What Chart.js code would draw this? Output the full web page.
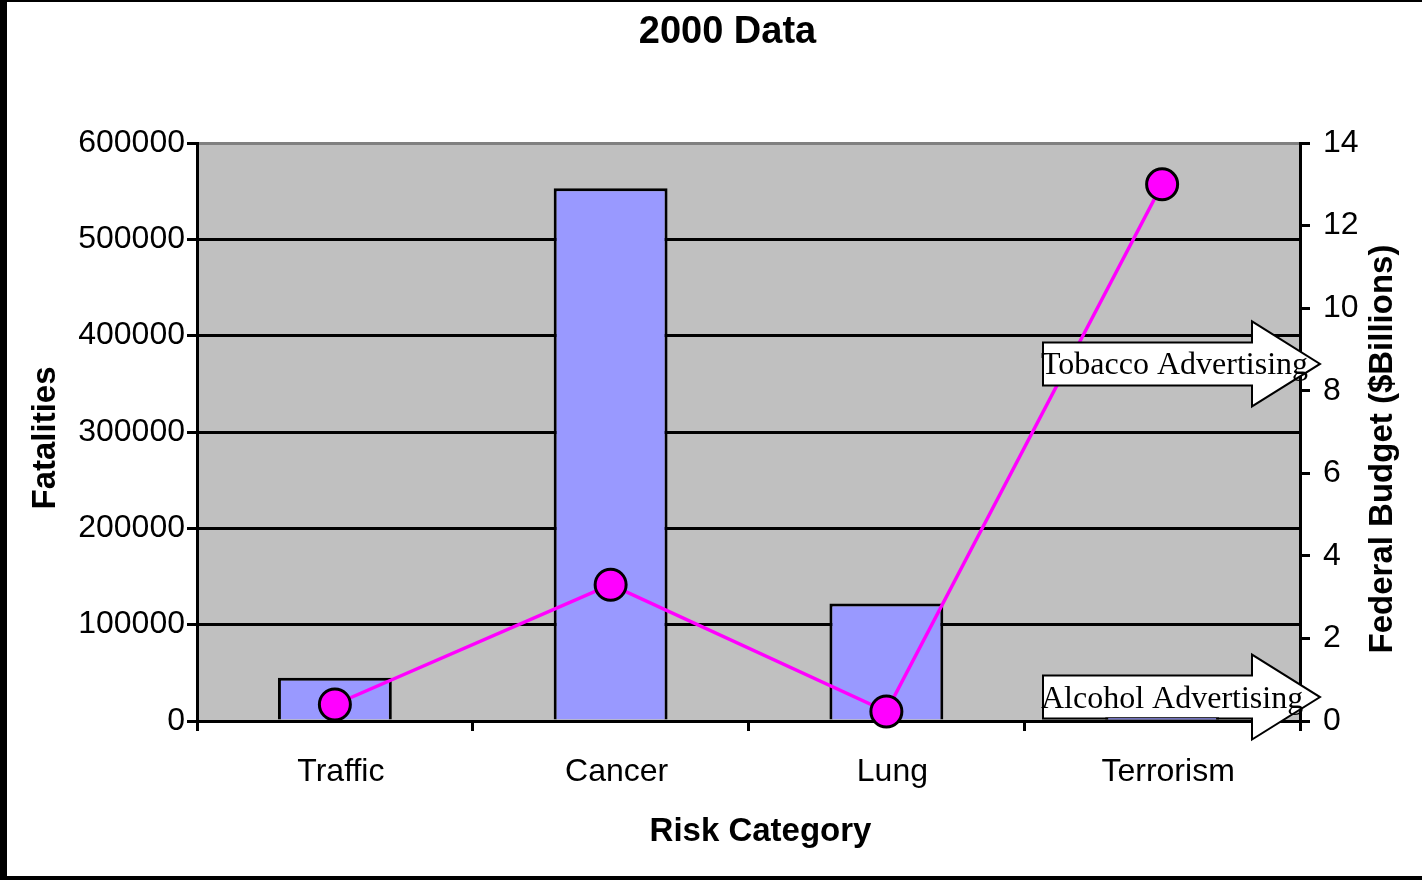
<!DOCTYPE html>
<html>
<head>
<meta charset="utf-8">
<title>2000 Data</title>
<script src="https://cdn.jsdelivr.net/npm/chart.js@4.4.1/dist/chart.umd.min.js"></script>
<style>
  html, body { margin: 0; padding: 0; background: #ffffff; }
  #wrap { position: relative; width: 1422px; height: 880px; }
  #frame {
    position: absolute; left: 0; top: 0; width: 1422px; height: 880px;
    box-sizing: border-box; pointer-events: none;
    border-left: 7px solid #000; border-top: 2px solid #000; border-bottom: 4px solid #000;
  }
  canvas { display: block; }
</style>
</head>
<body>
<div id="wrap">
  <canvas id="chart" width="1422" height="880"></canvas>
  <div id="frame"></div>
</div>
<script>
// Risk categories and their values
const CATEGORIES = ['Traffic', 'Cancer', 'Lung', 'Terrorism'];
const FATALITIES = [45000, 553000, 122000, 4000];
const BUDGET_BILLIONS = [0.4, 3.3, 0.23, 13];

// Axis ranges
const FATALITY_TICKS = [0, 100000, 200000, 300000, 400000, 500000, 600000];
const BUDGET_TICKS = [0, 2, 4, 6, 8, 10, 12, 14];

// Text
const CHART_TITLE = '2000 Data';
const X_TITLE = 'Risk Category';
const Y_TITLE = 'Fatalities';
const Y1_TITLE = 'Federal Budget ($Billions)';

// Arrow callouts, placed at a level on the budget axis
const CALLOUT_LABELS = ['Tobacco Advertising', 'Alcohol Advertising'];
const CALLOUT_LEVELS = [8.65, 0.58];

const SANS = '"Liberation Sans", Arial, sans-serif';
const SERIF = '"Liberation Serif", "Times New Roman", serif';
Chart.defaults.font.family = SANS;
Chart.defaults.color = '#000';

const plotBackdrop = {
  id: 'plotBackdrop',
  beforeDraw(chart) {
    const { ctx, chartArea: a, width, height } = chart;
    ctx.save();
    ctx.fillStyle = '#ffffff';
    ctx.fillRect(0, 0, width, height);
    ctx.fillStyle = '#C0C0C0';
    ctx.fillRect(a.left, a.top, a.right - a.left, a.bottom - a.top);
    ctx.restore();
  }
};

const titles = {
  id: 'titles',
  afterDraw(chart) {
    const { ctx, chartArea: a } = chart;
    const midX = (a.left + a.right) / 2;
    const midY = (a.top + a.bottom) / 2;
    ctx.save();
    ctx.fillStyle = '#000';
    ctx.textAlign = 'center';
    ctx.textBaseline = 'alphabetic';

    ctx.font = 'bold 38px ' + SANS;
    ctx.fillText(CHART_TITLE, midX - 21, 43);

    ctx.font = 'bold 33px ' + SANS;
    ctx.fillText(X_TITLE, midX + 12, a.bottom + 120);

    ctx.save();
    ctx.translate(a.left - 142, midY + 6);
    ctx.rotate(-Math.PI / 2);
    ctx.fillText(Y_TITLE, 0, 0);
    ctx.restore();

    ctx.save();
    ctx.translate(a.right + 92, midY + 17);
    ctx.rotate(-Math.PI / 2);
    ctx.fillText(Y1_TITLE, 0, 0);
    ctx.restore();

    ctx.restore();
  }
};

const callouts = {
  id: 'callouts',
  afterDatasetsDraw(chart) {
    const { ctx, chartArea: a } = chart;
    const y1 = chart.scales.y1;
    const bodyLeft = a.right - 257;
    const headBase = a.right - 48;
    const tip = a.right + 20;
    const bodyHalf = 21.5;
    const headHalf = 42.5;
    ctx.save();
    CALLOUT_LABELS.forEach((label, i) => {
      const cy = y1.getPixelForValue(CALLOUT_LEVELS[i]);
      ctx.beginPath();
      ctx.moveTo(bodyLeft, cy - bodyHalf);
      ctx.lineTo(headBase, cy - bodyHalf);
      ctx.lineTo(headBase, cy - headHalf);
      ctx.lineTo(tip, cy);
      ctx.lineTo(headBase, cy + headHalf);
      ctx.lineTo(headBase, cy + bodyHalf);
      ctx.lineTo(bodyLeft, cy + bodyHalf);
      ctx.closePath();
      ctx.fillStyle = '#ffffff';
      ctx.fill();
      ctx.lineWidth = 2;
      ctx.strokeStyle = '#000';
      ctx.stroke();
      ctx.fillStyle = '#000';
      ctx.font = '32px ' + SERIF;
      ctx.textAlign = 'left';
      ctx.textBaseline = 'alphabetic';
      ctx.fillText(label, bodyLeft - 2, cy + 10.5);
    });
    ctx.restore();

    // bars sitting under the callouts stay visible along the baseline
    const barMeta = chart.getDatasetMeta(1);
    barMeta.data.forEach(el => {
      if (el.x - el.width / 2 > bodyLeft) el.draw(ctx, a);
    });
  }
};

new Chart(document.getElementById('chart'), {
  type: 'bar',
  data: {
    labels: CATEGORIES,
    datasets: [
      {
        type: 'line',
        label: 'Federal Budget',
        data: BUDGET_BILLIONS,
        yAxisID: 'y1',
        order: 0,
        borderColor: '#FF00FF',
        borderWidth: 3.5,
        tension: 0,
        fill: false,
        clip: false,
        pointRadius: 15.5,
        pointHoverRadius: 15.5,
        pointBackgroundColor: '#FF00FF',
        pointBorderColor: '#000',
        pointBorderWidth: 3
      },
      {
        type: 'bar',
        label: 'Fatalities',
        data: FATALITIES,
        yAxisID: 'y',
        order: 1,
        backgroundColor: '#9999FF',
        borderColor: '#000',
        borderWidth: 3,
        borderSkipped: 'start',
        categoryPercentage: 1,
        barPercentage: 0.413
      }
    ]
  },
  options: {
    responsive: false,
    animation: false,
    layout: { padding: { top: 143, left: 0, right: 0, bottom: 0 } },
    plugins: {
      legend: { display: false },
      title: { display: false },
      tooltip: { enabled: false }
    },
    scales: {
      x: {
        offset: true,
        grid: { offset: true, drawOnChartArea: false, drawTicks: true, tickLength: 10, color: '#000', lineWidth: 3 },
        border: { display: true, color: '#000', width: 3 },
        ticks: { color: '#000', font: { size: 32 }, padding: 22, labelOffset: 6, maxRotation: 0 },
        afterFit: s => { s.height = 159; }
      },
      y: {
        position: 'left',
        min: FATALITY_TICKS[0],
        max: FATALITY_TICKS[FATALITY_TICKS.length - 1],
        afterBuildTicks: s => { s.ticks = FATALITY_TICKS.map(v => ({ value: v })); },
        ticks: { color: '#000', font: { size: 32 }, padding: 2, callback: v => String(v) },
        grid: {
          color: c => (c.tick && c.tick.value === FATALITY_TICKS[FATALITY_TICKS.length - 1]) ? '#808080' : '#000',
          tickColor: '#000',
          lineWidth: 3,
          tickLength: 10
        },
        border: { color: '#000', width: 3 },
        afterFit: s => { s.width = 197; }
      },
      y1: {
        position: 'right',
        min: BUDGET_TICKS[0],
        max: BUDGET_TICKS[BUDGET_TICKS.length - 1],
        afterBuildTicks: s => { s.ticks = BUDGET_TICKS.map(v => ({ value: v })); },
        ticks: { color: '#000', font: { size: 32 }, padding: 13, callback: v => String(v) },
        grid: { drawOnChartArea: false, tickColor: '#000', color: '#000', lineWidth: 3, tickLength: 10 },
        border: { color: '#000', width: 3 },
        afterFit: s => { s.width = 122; }
      }
    }
  },
  plugins: [plotBackdrop, titles, callouts]
});
</script>
</body>
</html>
